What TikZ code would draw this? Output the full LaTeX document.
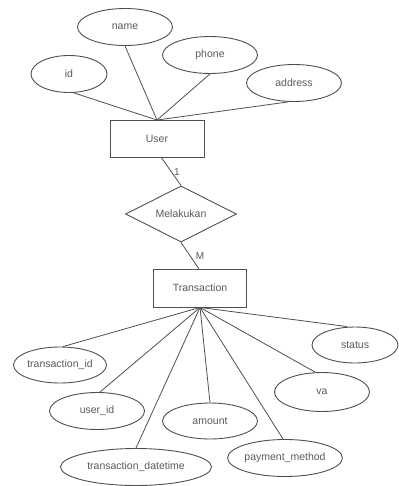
\documentclass[tikz,border=0pt]{standalone}
\usepackage{fontspec}
\setmainfont{Liberation Sans}
\usetikzlibrary{shapes.geometric}
\definecolor{lin}{HTML}{505050}
\definecolor{txt}{HTML}{5A5A5A}
\tikzset{
  attr/.style={ellipse,draw=lin,line width=0.9pt,minimum width=95pt,minimum height=37pt,inner sep=0pt,text=txt,font=\fontsize{10.5}{12}\selectfont},
  ent/.style={rectangle,draw=lin,line width=0.9pt,minimum width=94pt,minimum height=37pt,inner sep=0pt,text=txt,font=\fontsize{10.5}{12}\selectfont},
  rel/.style={diamond,draw=lin,line width=0.9pt,minimum width=111pt,minimum height=56pt,inner sep=0pt,shape aspect=2,text=txt,font=\fontsize{10.5}{12}\selectfont},
  conn/.style={draw=lin,line width=0.8pt},
  card/.style={text=txt,font=\fontsize{10}{12}\selectfont,inner sep=0pt}
}
\begin{document}
\begin{tikzpicture}[x=1pt,y=-1pt]
\useasboundingbox[fill=white] (0,0) rectangle (398,486);
% entities
\node[ent] (user) at (157,139) {User};
\node[rel] (rel) at (181,214) {Melakukan};
\node[ent,minimum width=93pt,minimum height=38pt] (trans) at (200,288) {Transaction};
% user attributes
\node[attr] (name) at (125,27) {name};
\node[attr] (phone) at (210,55) {phone};
\node[attr,minimum width=76pt] (id) at (69,74) {id};
\node[attr] (address) at (294,83) {address};
% transaction attributes
\node[attr,minimum width=93pt,minimum height=36pt] (tid) at (60,365) {transaction\_id};
\node[attr] (uid) at (97,411) {user\_id};
\node[attr,minimum height=36pt] (amount) at (210,421) {amount};
\node[attr,minimum width=151pt] (tdt) at (136,467) {transaction\_datetime};
\node[attr,minimum width=94pt] (pm) at (285,458) {payment\_method};
\node[attr,minimum height=39pt] (va) at (322,392) {va};
\node[attr,minimum width=86pt,minimum height=36pt] (status) at (355,345) {status};
% connectors user
\draw[conn] ([xshift=5pt]id.south) -- (user.north);
\draw[conn] (name.south) -- (user.north);
\draw[conn] (phone.south) -- (user.north);
\draw[conn] ([xshift=-6pt]address.south) -- (user.north);
% relationship
\coordinate (ub) at (161,157);
\coordinate (tt) at (199,269);
\draw[conn] (ub) -- (rel.north);
\draw[conn] (rel.south) -- (tt);
\node[card] (c1) at (177,172) {1};
\node[card] (cm) at (200,256) {M};
% connectors transaction
\draw[conn] ([xshift=3pt]tid.north) -- (trans.south);
\draw[conn] ([xshift=3pt]uid.north) -- (trans.south);
\draw[conn] (amount.north) -- (trans.south);
\draw[conn] (tdt.north) -- (trans.south);
\draw[conn] ([xshift=-2pt]pm.north) -- (trans.south);
\draw[conn] ([xshift=-7pt]va.north) -- (trans.south);
\draw[conn] ([xshift=-8pt]status.north) -- (trans.south);
\end{tikzpicture}
\end{document}
